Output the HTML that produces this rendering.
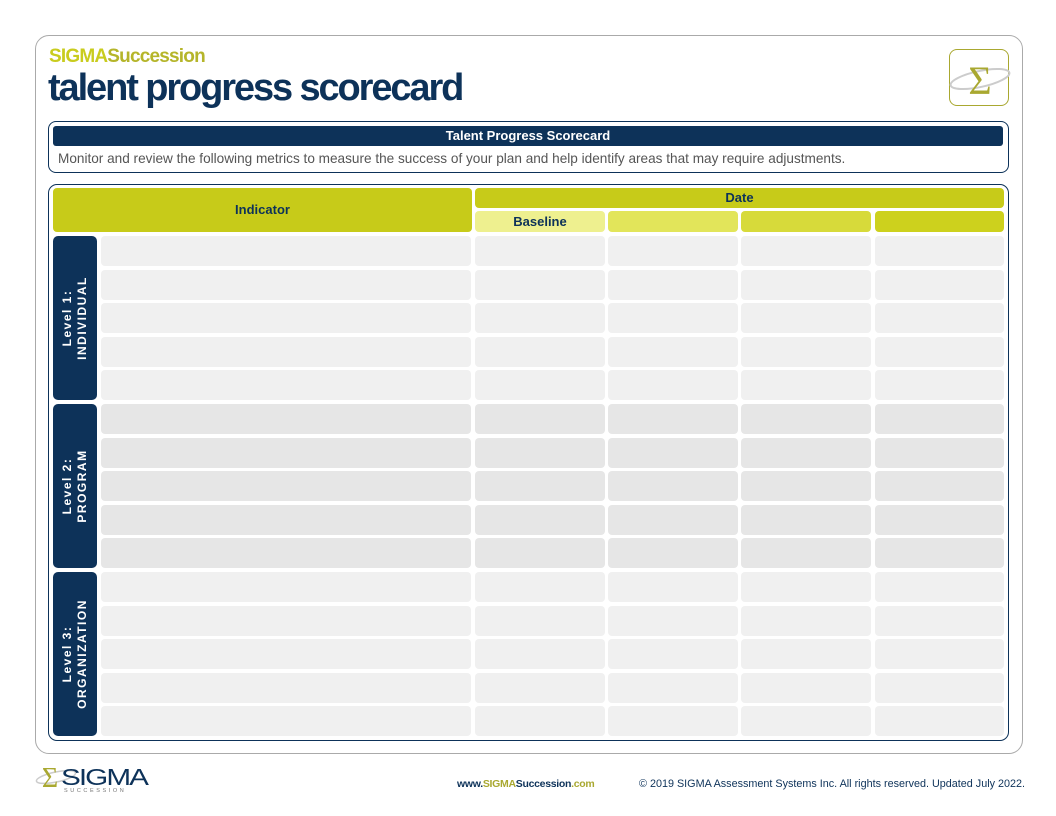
<!DOCTYPE html>
<html><head><meta charset="utf-8"><style>
*{margin:0;padding:0;box-sizing:border-box}
body{width:1056px;height:816px;background:#fff;position:relative;font-family:"Liberation Sans",sans-serif;overflow:hidden}
.a{position:absolute}
.cell{position:absolute;border-radius:4px}
.lvl{position:absolute;left:53px;width:44px;height:164px;background:#0d3259;border-radius:5px;}
.lvl div{position:absolute;left:50%;top:50%;transform:translate(-50%,-50%) rotate(-90deg);color:#fff;font-weight:bold;font-size:12px;line-height:15px;text-align:center;white-space:nowrap;letter-spacing:1.5px}
</style></head><body>
<div class="a" style="left:35px;top:35px;width:988px;height:719px;border:1px solid #aaa;border-radius:14px"></div>
<div class="a" style="left:49px;top:46px;font-size:19px;font-weight:bold;letter-spacing:-0.8px;color:#b5b52a"><span style="color:#c9cc1e">SIGMA</span>Succession</div>
<div class="a" style="left:48px;top:67px;font-size:38px;font-weight:bold;letter-spacing:-2.1px;color:#0d3259">talent progress scorecard</div>
<div class="a" style="left:949px;top:49px;width:60px;height:57px;border:1.5px solid #a9a830;border-radius:8px"></div>
<svg class="a" style="left:949px;top:49px" width="64" height="57"><ellipse cx="31" cy="30" rx="30" ry="8" fill="none" stroke="#ccc" stroke-width="2" transform="rotate(-12 31 30)"/><text x="31" y="45" text-anchor="middle" font-family="Liberation Serif" font-size="40" fill="#a9a830">Σ</text></svg>
<div class="a" style="left:48px;top:121px;width:961px;height:52px;border:1px solid #0d3259;border-radius:8px"></div>
<div class="a" style="left:53px;top:126px;width:950px;height:20px;background:#0d3259;border-radius:3px;color:#fff;font-weight:bold;font-size:13px;text-align:center;line-height:20px">Talent Progress Scorecard</div>
<div class="a" style="left:58px;top:151px;font-size:13.6px;color:#555;white-space:nowrap">Monitor and review the following metrics to measure the success of your plan and help identify areas that may require adjustments.</div>
<div class="a" style="left:48px;top:184px;width:961px;height:557px;border:1.5px solid #0d3259;border-radius:9px"></div>
<div class="cell" style="left:53px;top:188px;width:419px;height:44px;background:#c7cb19;color:#0d3259;font-weight:bold;font-size:13px;text-align:center;line-height:44px">Indicator</div>
<div class="cell" style="left:475px;top:188px;width:529px;height:20px;background:#c7cb19;color:#0d3259;font-weight:bold;font-size:13px;text-align:center;line-height:20px">Date</div>
<div class="cell" style="left:475px;top:211px;width:130px;height:21px;background:#eef08f;color:#0d3259;font-weight:bold;font-size:13px;text-align:center;line-height:21px">Baseline</div>
<div class="cell" style="left:608px;top:211px;width:130px;height:21px;background:#e2e55a"></div>
<div class="cell" style="left:741px;top:211px;width:130px;height:21px;background:#d7da3a"></div>
<div class="cell" style="left:875px;top:211px;width:129px;height:21px;background:#cdd11d"></div>
<div class="lvl" style="top:236px"><div>Level 1:<br>INDIVIDUAL</div></div>
<div class="lvl" style="top:404px"><div>Level 2:<br>PROGRAM</div></div>
<div class="lvl" style="top:572px"><div>Level 3:<br>ORGANIZATION</div></div>
<div id="g"></div>
<script>
var cols=[[101,471],[475,605],[608,738],[741,871],[875,1004]],h='';
for(var b=0;b<3;b++)for(var i=0;i<5;i++){var y=236+168*b+33.6*i;
for(var c=0;c<5;c++)h+='<div class="cell" style="left:'+cols[c][0]+'px;top:'+y+'px;width:'+(cols[c][1]-cols[c][0])+'px;height:30px;background:'+(b==1?'#e6e6e6':'#f0f0f0')+'"></div>';}
document.getElementById('g').innerHTML=h;
</script>
<svg class="a" style="left:34px;top:762px" width="125" height="32"><ellipse cx="22" cy="15" rx="20" ry="5" fill="none" stroke="#ccc" stroke-width="1.5" transform="rotate(-12 22 15)"/><text x="16" y="25" text-anchor="middle" font-family="Liberation Serif" font-size="28" fill="#a9a830">Σ</text><text x="27" y="23" font-family="Liberation Sans" font-size="23" fill="#0d3259" letter-spacing="-1.5" textLength="86" lengthAdjust="spacingAndGlyphs">SIGMA</text><text x="30" y="30" font-family="Liberation Sans" font-size="5.5" fill="#777" letter-spacing="2.6">SUCCESSION</text></svg>
<div class="a" style="left:457px;top:778px;font-size:10.5px;font-weight:bold;color:#0d3259;letter-spacing:-0.3px">www.<span style="color:#a9a830">SIGMA</span>Succession<span style="color:#a9a830">.com</span></div>
<div class="a" style="left:639px;top:778px;font-size:10.8px;color:#0d3259;white-space:nowrap">© 2019 SIGMA Assessment Systems Inc. All rights reserved. Updated July 2022.</div>
</body></html>
